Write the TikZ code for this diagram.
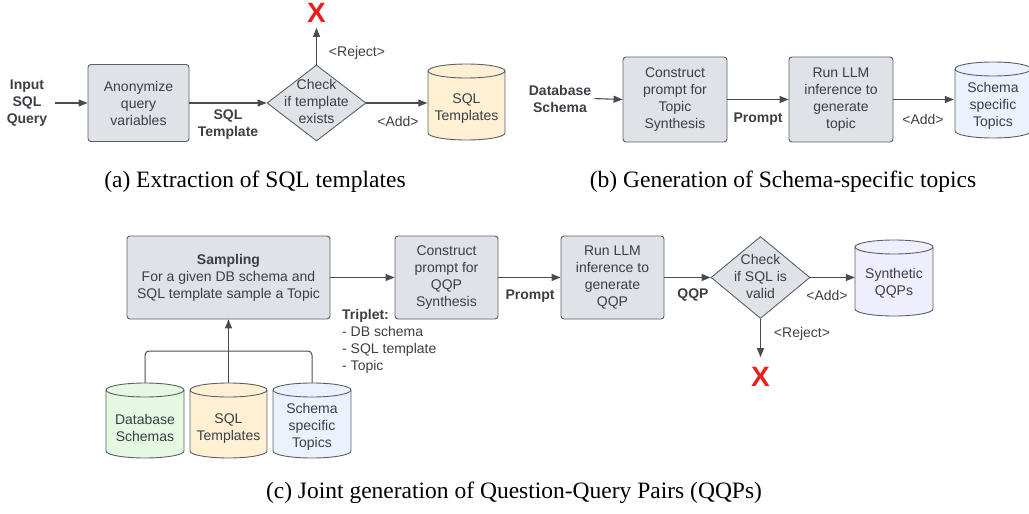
\documentclass[tikz,border=0pt]{standalone}
\usepackage{fontspec}
\setmainfont{Liberation Serif}
\newfontfamily\dsans{Liberation Sans}
\usetikzlibrary{arrows.meta,shapes.geometric}
\definecolor{linec}{HTML}{5A5F67}
\definecolor{arrc}{HTML}{474C54}
\definecolor{txtc}{HTML}{3B3F46}
\definecolor{boxf}{HTML}{DFE2E6}
\definecolor{yelf}{HTML}{FFF0D4}
\definecolor{bluf}{HTML}{EAF2FE}
\definecolor{grnf}{HTML}{E4F8E2}
\definecolor{lavf}{HTML}{EEEEFC}
\definecolor{xred}{HTML}{E8201A}
\newcommand{\cylpath}[6]{%
 \filldraw[line width=0.9pt, draw=linec, fill=#6] (#1,#2+#5) -- (#1,#4-#5)
   arc[start angle=180,end angle=0,x radius={(#3-#1)/2},y radius=#5] -- (#3,#2+#5)
   arc[start angle=0,end angle=-180,x radius={(#3-#1)/2},y radius=#5] -- cycle;
 \draw[line width=0.9pt, draw=linec] (#1,#2+#5) arc[start angle=180,end angle=0,x radius={(#3-#1)/2},y radius=#5];
}
\begin{document}
\begin{tikzpicture}[x=1pt,y=-1pt,
 dtext/.style={font=\dsans\fontsize{14}{17}\selectfont, text=txtc, align=center, inner sep=0pt},
 btext/.style={dtext, font=\dsans\bfseries\fontsize{14}{17}\selectfont},
 box/.style={dtext, draw=linec, fill=boxf, line width=0.9pt, rounded corners=3pt, minimum height=83pt},
 arr/.style={draw=arrc, line width=1.1pt, -{Triangle[length=9pt,width=7pt]}},
 arrline/.style={draw=arrc, line width=1pt},
 dia/.style={diamond, draw=linec, fill=boxf, line width=0.9pt, inner sep=0pt},
 cylbox/.style={inner sep=0pt, minimum width=78pt},
 xmark/.style={font=\dsans\bfseries\fontsize{28}{28}\selectfont, text=xred, inner sep=0pt},
 captxt/.style={font=\fontsize{23.5}{28}\selectfont, inner sep=0pt}]
\useasboundingbox (0,0) rectangle (1029,514);

% ---------- (a)
\node[btext] (inq) at (27,103) {Input\\SQL\\Query};
\node[box, minimum width=101pt, minimum height=77pt] (anon) at (138.5,103) {Anonymize\\query\\variables};
\node[dia, minimum width=99pt, minimum height=76pt] (chk1) at (316.5,103) {};
\node[dtext] (chk1t) at (316.5,101) {Check\\if template\\exists};
\node[cylbox, minimum height=76pt] (sqlt) at (466.5,103) {};
\cylpath{428}{64}{505}{140}{7}{yelf}
\node[dtext] (sqltt) at (466.5,108.5) {SQL\\Templates};
\node[xmark] (x1) at (316.5,13) {X};
\node[btext] (lbl1) at (228,124.5) {SQL\\Template};
\node[dtext] (rej1) at (357,53) {<Reject>};
\node[dtext] (add1) at (398,121) {<Add>};
\node[captxt] (capa) at (255,182) {(a) Extraction of SQL templates};

\draw[arr, shorten <=8pt] (inq.east) -- (anon.west);
\draw[arr] (anon.east) -- (chk1.west);
\draw[arr, shorten >=5pt] (chk1.north) -- (x1.south);
\draw[arr] (chk1.east) -- (sqlt.west);

% ---------- (b)
\node[btext] (dbs) at (560,98.5) {Database\\Schema};
\node[box, minimum width=104pt, minimum height=85pt] (ctp) at (675,99.5) {Construct\\prompt for\\Topic\\Synthesis};
\node[box, minimum width=104pt, minimum height=85pt] (llm1) at (841,99.5) {Run LLM\\inference to\\generate\\topic};
\node[cylbox, minimum height=76pt] (sst) at (993,99.5) {};
\cylpath{955}{62}{1031}{138}{7}{bluf}
\node[dtext] (sstt) at (993,106) {Schema\\specific\\Topics};
\node[btext] (lbl2) at (758,119) {Prompt};
\node[dtext] (add2) at (923,119) {<Add>};
\node[captxt] (capb) at (783,182) {(b) Generation of Schema-specific topics};

\draw[arr, shorten <=3pt] (dbs.east) -- (ctp.west);
\draw[arr] (ctp.east) -- (llm1.west);
\draw[arr] (llm1.east) -- (sst.west);

% ---------- (c)
\node[box, minimum width=203pt, minimum height=83pt] (samp) at (228.5,277.5) {\textbf{Sampling}\\For a given DB schema and\\SQL template sample a Topic};
\node[box, minimum width=103pt] (cqp) at (446.5,277.5) {Construct\\prompt for\\QQP\\Synthesis};
\node[box, minimum width=103pt] (llm2) at (612.5,277.5) {Run LLM\\inference to\\generate\\QQP};
\node[dia, minimum width=99pt, minimum height=82pt] (chk2) at (760.5,277.5) {};
\node[dtext] (chk2t) at (760.5,276) {Check\\if SQL is\\valid};
\node[cylbox, minimum height=76pt] (syn) at (894,277.5) {};
\cylpath{855}{240}{933}{316}{7}{lavf}
\node[dtext] (synt) at (894,283.5) {Synthetic\\QQPs};
\node[xmark] (x2) at (760.5,377) {X};
\node[dtext, align=left, anchor=north west] (trip) at (342,309) {\textbf{Triplet:}\\- DB schema\\- SQL template\\- Topic};
\node[btext] (lbl3) at (530,296) {Prompt};
\node[btext] (lbl4) at (693,295) {QQP};
\node[dtext] (add3) at (827,295) {<Add>};
\node[dtext] (rej2) at (802,334) {<Reject>};

\node[cylbox, minimum height=75pt] (dbc) at (145,420.5) {};
\cylpath{106}{383}{184}{458}{7}{grnf}
\node[dtext] (dbct) at (145,427.5) {Database\\Schemas};
\node[cylbox, minimum height=75pt, minimum width=77pt] (stc) at (228.5,420.5) {};
\cylpath{190}{383}{267}{458}{7}{yelf}
\node[dtext] (stct) at (228.5,428.5) {SQL\\Templates};
\node[cylbox, minimum height=75pt] (tpc) at (312,420.5) {};
\cylpath{273}{383}{351}{458}{7}{bluf}
\node[dtext] (tpct) at (312,427) {Schema\\specific\\Topics};
\node[captxt] (capc) at (514,493) {(c) Joint generation of Question-Query Pairs (QQPs)};

\coordinate (jn) at (228.5,351);
\draw[arrline, rounded corners=4pt] (dbc.north) |- (jn);
\draw[arrline, rounded corners=4pt] (tpc.north) |- (jn);
\draw[arr] (stc.north) -- (samp.south);
\draw[arr] (samp.east) -- (cqp.west);
\draw[arr] (cqp.east) -- (llm2.west);
\draw[arr] (llm2.east) -- (chk2.west);
\draw[arr] (chk2.east) -- (syn.west);
\draw[arr, shorten >=10pt] (chk2.south) -- (x2.north);
\end{tikzpicture}
\end{document}
